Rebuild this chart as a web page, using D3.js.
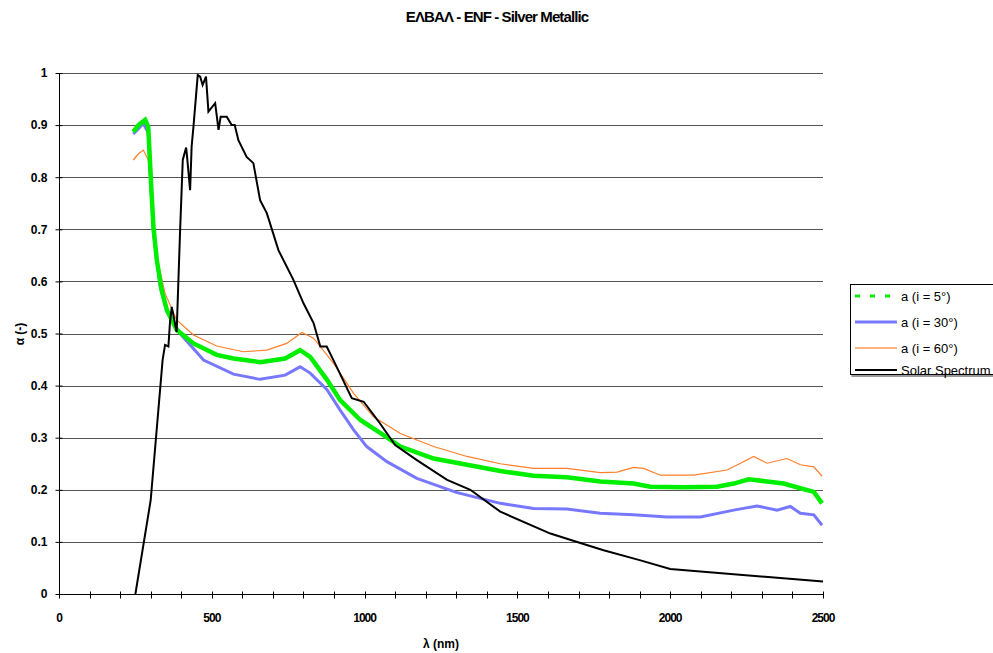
<!DOCTYPE html>
<html>
<head>
<meta charset="utf-8">
<script src="https://cdn.jsdelivr.net/npm/d3@7"></script>
<style>
body { margin:0; background:#fff; }
text { font-family: "Liberation Sans", Arial, sans-serif; }
</style>
</head>
<body>
<svg width="993" height="653"></svg>
<script>
// wavelength (nm) and alpha values
var wl5 = [243,260,282,292,303,309,320,336,353,385,440,516,571,658,740,789,822,877,920,986,1062,1117,1226,1335,1444,1553,1662,1771,1880,1935,2044,2153,2208,2257,2317,2371,2426,2470,2497];
var a5 = [0.887,0.9,0.91,0.897,0.769,0.705,0.641,0.583,0.545,0.507,0.481,0.459,0.452,0.445,0.452,0.468,0.455,0.411,0.372,0.334,0.305,0.283,0.26,0.248,0.236,0.227,0.224,0.216,0.212,0.206,0.205,0.206,0.212,0.22,0.216,0.212,0.203,0.196,0.174];

var wl30 = [243,260,276,292,309,331,353,396,473,571,658,740,789,822,877,920,964,1007,1073,1171,1300,1444,1553,1662,1771,1880,1990,2099,2208,2284,2350,2393,2426,2470,2497];
var a30 = [0.883,0.893,0.903,0.885,0.692,0.59,0.542,0.5,0.449,0.422,0.412,0.42,0.436,0.424,0.392,0.353,0.315,0.283,0.254,0.222,0.195,0.174,0.164,0.163,0.155,0.152,0.148,0.148,0.161,0.169,0.161,0.168,0.155,0.152,0.132];

var wl60 = [243,260,276,292,303,320,347,385,440,516,603,680,745,795,833,898,964,1029,1117,1226,1335,1444,1553,1662,1771,1826,1880,1913,1968,2077,2186,2230,2273,2317,2382,2426,2470,2497];
var a60 = [0.833,0.845,0.852,0.833,0.75,0.647,0.577,0.526,0.497,0.476,0.465,0.468,0.481,0.502,0.491,0.443,0.385,0.34,0.308,0.283,0.264,0.25,0.241,0.241,0.233,0.234,0.243,0.241,0.228,0.228,0.238,0.251,0.264,0.251,0.26,0.248,0.244,0.226];

var wlSun = [250,300,339,347,358,363,369,385,396,405,416,419,429,434,440,454,462,470,481,489,511,522,529,549,565,575,587,614,636,658,680,718,767,800,833,855,876,898,958,997,1046,1100,1171,1270,1346,1444,1608,1706,1782,1900,2000,2500];
var sun = [0.0,0.18,0.449,0.478,0.475,0.52,0.551,0.503,0.693,0.833,0.857,0.84,0.775,0.859,0.897,0.996,0.993,0.977,0.993,0.926,0.942,0.891,0.916,0.916,0.9,0.9,0.871,0.839,0.827,0.756,0.731,0.66,0.603,0.558,0.52,0.475,0.475,0.449,0.376,0.369,0.331,0.286,0.257,0.219,0.2,0.158,0.116,0.098,0.084,0.065,0.048,0.024];

var seriesNames = ["a (i = 5°)", "a (i = 30°)", "a (i = 60°)", "Solar Spectrum"];
var yTicks = [0,0.1,0.2,0.3,0.4,0.5,0.6,0.7,0.8,0.9,1];
var xMinor = d3.range(0, 2501, 100);
var xLabels = [0,500,1000,1500,2000,2500];

var svg = d3.select("svg");
var margins = {left:59, right:170, top:73, bottom:59};
var width = 993 - margins.left - margins.right;
var height = 653 - margins.top - margins.bottom;

var xScale = d3.scaleLinear().domain([0,2500]).range([margins.left, margins.left+width]);
var yScale = d3.scaleLinear().domain([0,1]).range([margins.top+height, margins.top]);

// title
svg.append("text")
   .attr("x", 497).attr("y", 22)
   .attr("text-anchor","middle")
   .style("font-size","15px").style("font-weight","bold")
   .style("letter-spacing","-0.9px")
   .text("ΕΛΒΑΛ - ENF - Silver Metallic");

// grid
svg.append("g").selectAll("line")
   .data(yTicks.slice(1))
   .enter().append("line")
   .attr("x1", xScale(0)).attr("x2", xScale(2500))
   .attr("y1", function(d){return Math.round(yScale(d))+0.5;})
   .attr("y2", function(d){return Math.round(yScale(d))+0.5;})
   .attr("stroke","#555").attr("stroke-width",1);

// y axis
var yAxis = d3.axisLeft(yScale).tickValues(yTicks).tickSize(4)
   .tickFormat(function(d){return String(+d.toFixed(1));});
var yG = svg.append("g").attr("transform","translate("+(xScale(0)+0.5)+",0)").call(yAxis);
yG.select(".domain").remove();
yG.selectAll(".tick line").attr("x2",-4).attr("x1",3);
yG.append("line").attr("y1",yScale(1)).attr("y2",yScale(0)).attr("stroke","#000");
yG.selectAll("text").attr("x",-12)
  .style("font-size","12px").style("font-weight","bold").attr("fill","#000")
  .style("font-family","'Liberation Sans', Arial, sans-serif");

// x axis
var xG = svg.append("g").attr("transform","translate(0,"+(Math.round(yScale(0))+0.5)+")");
xG.append("line").attr("x1",xScale(0)).attr("x2",xScale(2500)).attr("stroke","#000");
xG.selectAll(".mt").data(xMinor).enter().append("line")
  .attr("x1",function(d){return Math.round(xScale(d))+0.5;})
  .attr("x2",function(d){return Math.round(xScale(d))+0.5;})
  .attr("y1",-3).attr("y2",4).attr("stroke","#000");
xG.selectAll(".lab").data(xLabels).enter().append("text")
  .attr("x",function(d){return xScale(d);}).attr("y",27)
  .attr("text-anchor","middle")
  .style("font-size","12px").style("font-weight","bold")
  .style("letter-spacing","-1px")
  .text(function(d){return d;});

// axis titles
svg.append("text").attr("x",441).attr("y",648).attr("text-anchor","middle")
   .style("font-size","12px").style("font-weight","bold").text("λ (nm)");
svg.append("text").attr("transform","translate(24,334) rotate(-90)")
   .attr("text-anchor","middle")
   .style("font-size","12px").style("font-weight","bold").text("α (-)");

var line = d3.line()
   .x(function(d){return xScale(d[0]);})
   .y(function(d){return yScale(d[1]);});

var zip = function(xs, ys){ return xs.map(function(x,i){return [x, ys[i]];}); };

var plot = svg.append("g");
plot.append("path").datum(zip(wl60,a60)).attr("d",line)
  .attr("fill","none").attr("stroke","#ff7f2a").attr("stroke-width",1.2);
plot.append("path").datum(zip(wl30,a30)).attr("d",line)
  .attr("fill","none").attr("stroke","#7878ff").attr("stroke-width",3);
plot.append("path").datum(zip(wl5,a5)).attr("d",line)
  .attr("fill","none").attr("stroke","#00ee00").attr("stroke-width",4.5);
plot.append("path").datum(zip(wlSun,sun)).attr("d",line)
  .attr("fill","none").attr("stroke","#000").attr("stroke-width",2);

// legend
var legend = svg.append("g").attr("transform","translate(850,284)");
legend.append("rect").attr("x",1.5).attr("y",2).attr("width",160).attr("height",91).attr("fill","#999");
legend.append("rect").attr("x",0.5).attr("y",0.5).attr("width",160).attr("height",90)
  .attr("fill","#fff").attr("stroke","#000");
var legStyles = [
  {c:"#00ee00", w:3, dash:"5,10"},
  {c:"#7878ff", w:3, dash:null},
  {c:"#ff9955", w:1.5, dash:null},
  {c:"#000", w:2, dash:null}
];
var rows = legend.selectAll(".row").data(seriesNames).enter().append("g")
  .attr("transform",function(d,i){return "translate(0,"+[12,38,64,86][i]+")";});
rows.append("line").attr("x1",5).attr("x2",47).attr("y1",0).attr("y2",0)
  .attr("stroke",function(d,i){return legStyles[i].c;})
  .attr("stroke-width",function(d,i){return legStyles[i].w;})
  .attr("stroke-dasharray",function(d,i){return legStyles[i].dash;});
rows.append("text").attr("x",51).attr("y",5)
  .style("font-size","13px").text(function(d){return d;});
</script>
</body>
</html>
